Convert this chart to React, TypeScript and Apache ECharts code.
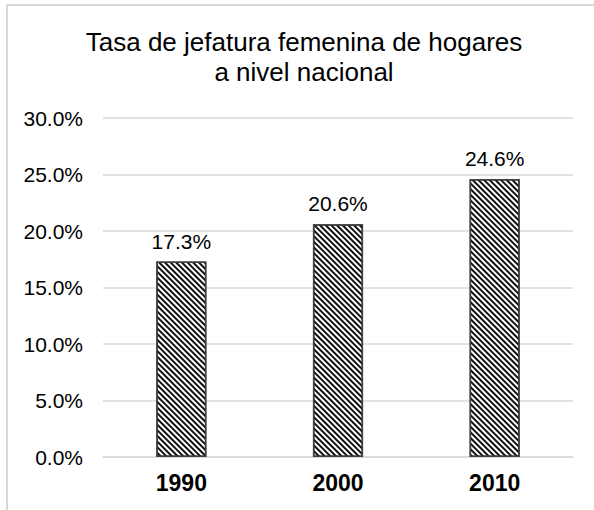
import React, { useEffect, useRef } from "react";
import * as echarts from "echarts";

const categories = ["1990", "2000", "2010"];
const values = [17.3, 20.6, 24.6];
const titleText = "Tasa de jefatura femenina de hogares\na nivel nacional";

export default function App() {
  const ref = useRef<HTMLDivElement>(null);
  useEffect(() => {
    if (!ref.current) return;
    const chart = echarts.init(ref.current, undefined, { renderer: "svg" });
    const font = "'Liberation Sans', Arial, sans-serif";
    chart.setOption({
      animation: false,
      backgroundColor: "#fff",
      graphic: [
        {
          type: "rect",
          shape: { x: 7, y: 5, width: 620, height: 620 },
          style: { fill: "none", stroke: "#d9d9d9", lineWidth: 2 },
          silent: true,
          z: 0,
        },
        {
          type: "text",
          x: 304,
          y: 27,
          style: {
            text: titleText,
            fontFamily: font,
            fontSize: 26,
            lineHeight: 30,
            fill: "#000",
            align: "center",
            verticalAlign: "top",
          },
          silent: true,
        },
      ],
      grid: { left: 103, right: 21, top: 118, bottom: 53 },
      xAxis: {
        type: "category",
        data: categories,
        axisLine: { lineStyle: { color: "#d9d9d9", width: 1.5 } },
        axisTick: { show: false },
        axisLabel: { fontFamily: font, fontSize: 23, fontWeight: "bold", color: "#000", margin: 14 },
      },
      yAxis: {
        type: "value",
        min: 0,
        max: 30,
        interval: 5,
        axisLine: { show: false },
        axisTick: { show: false },
        splitLine: { lineStyle: { color: "#d9d9d9", width: 1.5 } },
        axisLabel: {
          fontFamily: font,
          fontSize: 21,
          color: "#000",
          margin: 20,
          formatter: (v: number) => v.toFixed(1) + "%",
        },
      },
      series: [
        {
          type: "bar",
          data: values,
          barWidth: "32%",
          itemStyle: {
            color: "#fff",
            borderColor: "#404040",
            borderWidth: 1.5,
            decal: {
              symbol: "rect",
              symbolSize: 1,
              dashArrayX: [1, 0],
              dashArrayY: [1.5, 2],
              rotation: Math.PI / 4,
              color: "#111",
              backgroundColor: "#fff",
            },
          },
          label: {
            show: true,
            position: "top",
            distance: 10,
            fontFamily: font,
            fontSize: 21,
            color: "#000",
            formatter: (p: any) => p.value.toFixed(1) + "%",
          },
        },
      ],
    });
    return () => chart.dispose();
  }, []);
  return <div ref={ref} style={{ position: "fixed", left: 0, top: 0, width: 594, height: 510 }} />;
}
